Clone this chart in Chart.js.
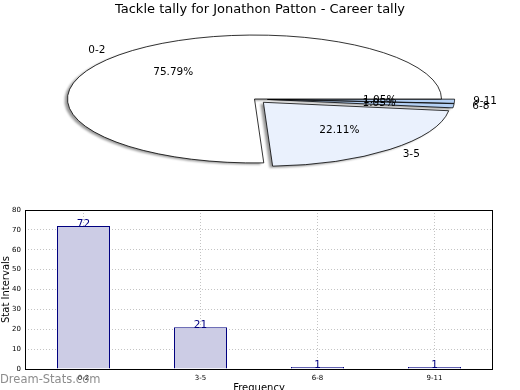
<!DOCTYPE html>
<html><head><meta charset="utf-8">
<script src="https://cdn.jsdelivr.net/npm/chart.js@4.4.0/dist/chart.umd.min.js"></script>
<style>
html,body{margin:0;padding:0;width:520px;height:390px;overflow:hidden;background:#fff;}
#pie{position:absolute;left:0;top:0;}
#bar{position:absolute;left:0;top:200px;}
</style></head><body>
<canvas id="pie" width="520" height="200"></canvas>
<canvas id="bar" width="520" height="200"></canvas>
<script>
const chartTitle = 'Tackle tally for Jonathon Patton - Career tally';
const categories = ['0-2', '3-5', '6-8', '9-11'];
const tallies = [72, 21, 1, 1];
const yTicks = [0, 10, 20, 30, 40, 50, 60, 70, 80];
const yAxisTitle = 'Stat Intervals';
const xAxisTitle = 'Frequency';
const watermark = 'Dream-Stats.com';

// styles
const pieColors = ['#ffffff', '#eaf1fd', '#b5d1f5', '#b5d1f5'];
const explode = [0, 0.07, 0.07, 0.07];
const ellipseRatio = 0.342;
const pieRadius = 187;
const FONT = '"DejaVu Sans", sans-serif';

const total = tallies.reduce((a, b) => a + b, 0);

const piePlugin = {
  id: 'ellipsePie',
  beforeDatasetDraw(chart, args) {
    const ctx = chart.ctx;
    const arcs = args.meta.data;
    const n = arcs.length;
    const base = ctx.getTransform();
    const cx = arcs[0].x, cy = arcs[0].y;
    const squash = () => { ctx.translate(cx, cy); ctx.scale(1, ellipseRatio); ctx.translate(-cx, -cy); };
    const shift = (arc, i) => {
      const e = explode[n - 1 - i] * arc.outerRadius;
      const a = (arc.startAngle + arc.endAngle) / 2;
      ctx.translate(Math.cos(a) * e, Math.sin(a) * e);
    };
    // shadow pass
    ctx.save();
    ctx.translate(-3, 1.5);
    ctx.filter = 'blur(1px)';
    squash();
    arcs.forEach((arc, i) => {
      ctx.save(); shift(arc, i);
      ctx.beginPath(); ctx.moveTo(arc.x, arc.y);
      ctx.arc(arc.x, arc.y, arc.outerRadius, arc.startAngle, arc.endAngle);
      ctx.closePath(); ctx.fillStyle = 'rgba(0,0,0,0.4)'; ctx.fill();
      ctx.restore();
    });
    ctx.restore();
    // main pass, strokes kept at uniform width
    const origStroke = CanvasRenderingContext2D.prototype.stroke;
    ctx.stroke = function (...a) { this.save(); this.setTransform(base); origStroke.apply(this, a); this.restore(); };
    ctx.save(); squash();
    arcs.forEach((arc, i) => { ctx.save(); shift(arc, i); arc.draw(ctx); ctx.restore(); });
    ctx.restore();
    delete ctx.stroke;
    return false;
  },
  afterDraw(chart) {
    const ctx = chart.ctx;
    const arcs = chart.getDatasetMeta(0).data;
    const n = arcs.length;
    ctx.save();
    ctx.fillStyle = '#000';
    ctx.font = '10.5px ' + FONT;
    ctx.textBaseline = 'middle';
    arcs.forEach((arc, i) => {
      const k = n - 1 - i;
      const r = arc.outerRadius;
      const e = explode[k] * r;
      const a = (arc.startAngle + arc.endAngle) / 2;
      const pos = f => [arc.x + Math.cos(a) * (e + f * r), arc.y + Math.sin(a) * (e + f * r) * ellipseRatio];
      const [lx, ly] = pos(1.1);
      ctx.textAlign = Math.cos(a) > 0 ? 'left' : 'right';
      ctx.fillText(categories[k], lx, ly);
      const [px, py] = pos(0.6);
      ctx.textAlign = 'center';
      ctx.fillText((tallies[k] / total * 100).toFixed(2) + '%', px, py);
    });
    ctx.font = '13px ' + FONT;
    ctx.textAlign = 'center';
    ctx.fillText(chartTitle, chart.width / 2, 10);
    ctx.restore();
  }
};

new Chart(document.getElementById('pie'), {
  type: 'pie',
  data: {
    labels: categories.slice().reverse(),
    datasets: [{
      data: tallies.slice().reverse(),
      backgroundColor: pieColors.slice().reverse(),
      borderColor: '#000',
      borderWidth: 0.8,
      hoverOffset: 0
    }]
  },
  options: {
    responsive: false, animation: false, events: [],
    rotation: 90,
    radius: pieRadius,
    layout: { padding: { top: 19, bottom: 21, left: 0, right: 11 } },
    plugins: { legend: { display: false }, tooltip: { enabled: false }, title: { display: false } }
  },
  plugins: [piePlugin]
});

const barPlugin = {
  id: 'barExtras',
  afterDraw(chart) {
    const ctx = chart.ctx;
    const ca = chart.chartArea;
    ctx.save();
    ctx.strokeStyle = '#000';
    ctx.lineWidth = 1;
    ctx.strokeRect(Math.round(ca.left) + 0.5, Math.round(ca.top) + 0.5, Math.round(ca.right - ca.left) - 1, Math.round(ca.bottom - ca.top));
    ctx.fillStyle = '#000080';
    ctx.font = '10.5px ' + FONT;
    ctx.textAlign = 'center';
    ctx.textBaseline = 'alphabetic';
    chart.getDatasetMeta(0).data.forEach((bar, i) => {
      ctx.fillText(String(tallies[i]), bar.x, bar.y + 1);
    });
    ctx.fillStyle = 'rgba(120,120,120,0.85)';
    ctx.font = '11.5px ' + FONT;
    ctx.textAlign = 'left';
    ctx.textBaseline = 'middle';
    ctx.fillText(watermark, 0, 180);
    ctx.restore();
  }
};

const gridOpts = { color: '#c4c4c4', lineWidth: 1, drawTicks: false, borderDash: [1, 2] };

new Chart(document.getElementById('bar'), {
  type: 'bar',
  data: {
    labels: categories,
    datasets: [{
      data: tallies,
      backgroundColor: 'rgb(204,204,229)',
      borderColor: '#000080',
      borderWidth: 1,
      barPercentage: 0.453,
      categoryPercentage: 1
    }]
  },
  options: {
    responsive: false, animation: false, events: [],
    layout: { padding: { top: 10, right: 27, left: 0, bottom: 0 } },
    plugins: { legend: { display: false }, tooltip: { enabled: false } },
    scales: {
      x: {
        z: 1,
        grid: Object.assign({ offset: false }, gridOpts),
        border: { display: false, dash: [1, 2] },
        ticks: { padding: 5, color: '#000', font: { size: 7, family: FONT }, maxRotation: 0, autoSkip: false },
        title: { display: true, text: xAxisTitle, color: '#000', font: { size: 10, family: FONT }, padding: { top: 0, bottom: 5.5 } },
        afterFit(s) { s.height = 31; }
      },
      y: {
        z: 1,
        min: 0, max: 80,
        afterBuildTicks(s) { s.ticks = yTicks.map(v => ({ value: v })); },
        grid: gridOpts,
        border: { display: false, dash: [1, 2] },
        ticks: { padding: 4, color: '#000', font: { size: 7, family: FONT } },
        title: { display: true, text: yAxisTitle, color: '#000', font: { size: 10, family: FONT }, padding: { top: 0, bottom: 0 } },
        afterFit(s) { s.width = 25; }
      }
    }
  },
  plugins: [barPlugin]
});
</script>
</body></html>
